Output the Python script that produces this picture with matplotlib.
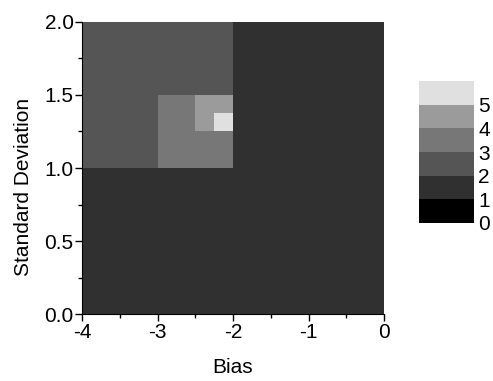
import numpy as np
import matplotlib
matplotlib.use("Agg")
import matplotlib.pyplot as plt
from matplotlib.colors import ListedColormap, BoundaryNorm

plt.rcParams['font.family'] = ['Liberation Sans', 'DejaVu Sans']

# Cell edges (Bias on x, Standard Deviation on y)
bias_edges = [-4, -3, -2.5, -2.25, -2, 0]
sd_edges = [0, 1, 1.25, 1.375, 1.5, 2]
# values per cell, rows from bottom (low SD) to top
values = [
    [1.5, 1.5, 1.5, 1.5, 1.5],
    [2.5, 3.5, 3.5, 3.5, 1.5],
    [2.5, 3.5, 4.5, 5.5, 1.5],
    [2.5, 3.5, 4.5, 4.5, 1.5],
    [2.5, 2.5, 2.5, 2.5, 1.5],
]
levels = [0, 1, 2, 3, 4, 5, 6]
level_colors = ['#000000', '#303030', '#555555', '#777777', '#9b9b9b', '#e0e0e0']
cbar_labels = ['0', '1', '2', '3', '4', '5']

cmap = ListedColormap(level_colors)
norm = BoundaryNorm(levels, cmap.N)

FS = 15
fig = plt.figure(figsize=(4.93, 3.81), dpi=100)
ax = fig.add_axes([82/493, 1-314.3/381, (384-82)/493, (314.3-21.7)/381])
mesh = ax.pcolormesh(bias_edges, sd_edges, np.array(values), cmap=cmap, norm=norm)
ax.set_xlim(-4, 0)
ax.set_ylim(0, 2)
ax.set_xticks([-4, -3, -2, -1, 0])
ax.set_xticklabels(['-4', '-3', '-2', '-1', '0'])
ax.set_xticks(np.arange(-3.5, 0, 1), minor=True)
ax.set_yticks([0, 0.5, 1.0, 1.5, 2.0])
ax.set_yticklabels(['0.0', '0.5', '1.0', '1.5', '2.0'])
ax.set_yticks([0.25, 0.75, 1.25, 1.75], minor=True)
for s in ['top', 'right']:
    ax.spines[s].set_visible(False)
ax.tick_params(which='major', length=5, width=1, labelsize=FS, pad=1)
ax.tick_params(which='minor', length=3, width=1)
ax.set_xlabel('Bias', fontsize=FS, labelpad=12)
ax.set_ylabel('Standard Deviation', fontsize=FS)
ax.yaxis.set_label_coords(-49/302, 0.435)

cax = fig.add_axes([419/493, 1-223/381, 55/493, (223-81)/381])
cb = fig.colorbar(mesh, cax=cax, boundaries=levels, ticks=levels[:-1])
cb.outline.set_visible(False)
cb.ax.minorticks_off()
cb.ax.set_yticklabels(cbar_labels)
cb.ax.tick_params(length=0, labelsize=FS, pad=3)

fig.savefig('out.png', dpi=100)
